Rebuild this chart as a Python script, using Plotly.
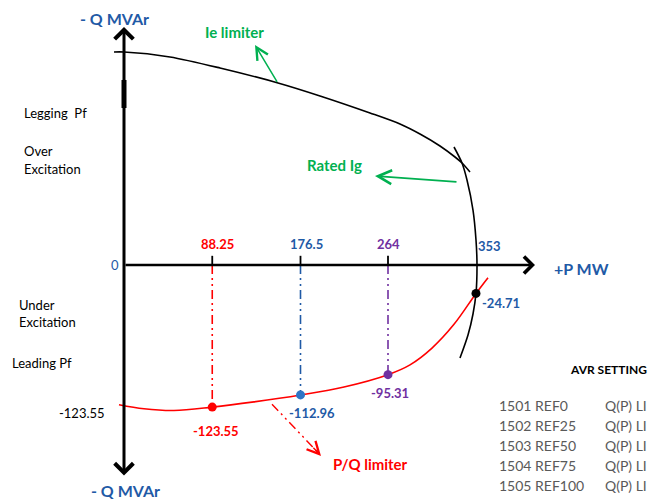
import plotly.graph_objects as go

# ---------------- data (P in MW, Q in MVAr) ----------------
p_ticks = [88.25, 176.5, 264]
p_tick_labels = ["88.25", "176.5", "264"]
p_tick_colors = ["#FF0000", "#1F5AA6", "#7030A0"]
p_rated = 353
p_rated_label = "353"

limit_p = [88.25, 176.5, 264, 352]
limit_q = [-123.55, -112.96, -95.31, -24.71]
limit_labels = ["-123.55", "-112.96", "-95.31", "-24.71"]
marker_colors = ["#FF0000", "#2E75C6", "#7030A0", "#000000"]
label_colors = ["#FF0000", "#1F5AA6", "#7030A0", "#1F5AA6"]

# P/Q limiter curve
pq_curve_p = [-5, 20, 50, 88.25, 130, 176.5, 220, 264, 286, 308, 330, 352, 364]
pq_curve_q = [-121.5, -125, -126.5, -123.55, -119, -112.96, -106, -95.31, -86.8, -72.2, -51.6, -24.71, -11]

# Ie limiter curve
ie_curve_p = [-10, 0, 46, 96, 154, 196, 246, 276, 296, 316, 331, 338, 346]
ie_curve_q = [185.2, 185.2, 180.9, 171.3, 158.3, 147.0, 132.2, 122.6, 113.9, 103.5, 93.9, 88.7, 80.9]

# Rated Ig arc
rated_p = [330, 338, 343, 349, 352, 353, 352, 349, 344, 336]
rated_q = [102.6, 88.7, 73.9, 47.8, 21.7, 0, -24.71, -42.6, -60.9, -80.9]

q_left_label = "-123.55"

avr_title = "AVR SETTING"
avr_codes = ["1501 REF0", "1502 REF25", "1503 REF50", "1504 REF75", "1505 REF100"]
avr_modes = ["Q(P) LI", "Q(P) LI", "Q(P) LI", "Q(P) LI", "Q(P) LI"]

# ---------------- layout constants ----------------
W, H = 651, 500
X_RANGE = [-124, 527]
Y_RANGE = [-204.3, 230.4]
Q_TOP, Q_BOTTOM, P_END = 207, -184.3, 411
TICK = 8
FONT = "Lato, 'Open Sans', sans-serif"
BLUE = "#1F5AA6"
GREEN = "#00B050"
RED = "#FF0000"
DASH = "9px,4px,2px,4px,2px,4px"


def px(x):
    return x / W


def py(y):
    return 1 - y / H


fig = go.Figure()

# curves
fig.add_trace(go.Scatter(x=ie_curve_p, y=ie_curve_q, mode="lines",
                         line=dict(color="black", width=1.6, shape="spline", smoothing=0.8)))
fig.add_trace(go.Scatter(x=rated_p, y=rated_q, mode="lines",
                         line=dict(color="black", width=1.6, shape="spline", smoothing=0.8)))
fig.add_trace(go.Scatter(x=pq_curve_p, y=pq_curve_q, mode="lines",
                         line=dict(color=RED, width=1.6, shape="spline", smoothing=1.0)))

# dash-dot drop lines and tick marks
for p, q, c in zip(p_ticks, limit_q, p_tick_colors):
    fig.add_trace(go.Scatter(x=[p, p], y=[0, q], mode="lines",
                             line=dict(color=c, width=1.6, dash=DASH)))
    fig.add_trace(go.Scatter(x=[p, p], y=[0, TICK], mode="lines",
                             line=dict(color="black", width=1.8)))

# thick stroke on the Q axis
fig.add_trace(go.Scatter(x=[0, 0], y=[160.9, 136.5], mode="lines",
                         line=dict(color="black", width=5)))

# points
fig.add_trace(go.Scatter(x=limit_p, y=limit_q, mode="markers",
                         marker=dict(color=marker_colors, size=9)))

# P/Q limiter dash-dot pointer shaft
fig.add_trace(go.Scatter(x=[148, 194], y=[-121, -163], mode="lines",
                         line=dict(color=RED, width=1.4, dash=DASH)))

ann = []

# axes with arrow heads
ann.append(dict(x=0, y=Q_TOP, ax=0, ay=Q_BOTTOM, xref="x", yref="y", axref="x", ayref="y",
                text="", showarrow=True, arrowside="end+start", arrowhead=4, startarrowhead=4,
                arrowwidth=3, arrowsize=1.2, startarrowsize=1.2, arrowcolor="black"))
ann.append(dict(x=P_END, y=0, ax=0, ay=0, xref="x", yref="y", axref="x", ayref="y",
                text="", showarrow=True, arrowhead=4, arrowwidth=2.5, arrowsize=1.3,
                arrowcolor="black"))

# green pointers
ann.append(dict(x=131, y=191.3, ax=154, ay=158, xref="x", yref="y", axref="x", ayref="y",
                text="", showarrow=True, arrowhead=5, arrowwidth=1.5, arrowsize=1.6,
                arrowcolor=GREEN))
ann.append(dict(x=251, y=77.4, ax=334, ay=72.2, xref="x", yref="y", axref="x", ayref="y",
                text="", showarrow=True, arrowhead=5, arrowwidth=1.8, arrowsize=1.5,
                arrowcolor=GREEN))
# red pointer head
ann.append(dict(x=197, y=-166, ax=188, ay=-157.5, xref="x", yref="y", axref="x", ayref="y",
                text="", showarrow=True, arrowhead=5, arrowwidth=1.4, arrowsize=1.7,
                arrowcolor=RED))

# tick labels
tick_shift = [5, 6, 0]
for p, t, c, s in zip(p_ticks, p_tick_labels, p_tick_colors, tick_shift):
    ann.append(dict(x=p, y=0, xref="x", yref="y", text="<b>%s</b>" % t, showarrow=False,
                    font=dict(family=FONT, size=13, color=c), xshift=s, yshift=21))
ann.append(dict(x=p_rated, y=0, xref="x", yref="y", text="<b>%s</b>" % p_rated_label,
                showarrow=False, font=dict(family=FONT, size=13, color=BLUE),
                xshift=12, yshift=19))
ann.append(dict(x=0, y=0, xref="x", yref="y", text="0", showarrow=False,
                font=dict(family=FONT, size=13, color=BLUE), xanchor="right", xshift=-3))

# point labels
lab_shift = [(4, -24), (11, -18), (2, -18), (25, -10)]
for p, q, t, c, (sx, sy) in zip(limit_p, limit_q, limit_labels, label_colors, lab_shift):
    ann.append(dict(x=p, y=q, xref="x", yref="y", text="<b>%s</b>" % t, showarrow=False,
                    font=dict(family=FONT, size=13, color=c), xshift=sx, yshift=sy))

# Q axis value label
ann.append(dict(x=0, y=limit_q[0], xref="x", yref="y", text=q_left_label, showarrow=False,
                font=dict(family=FONT, size=13, color="black"), xanchor="right", xshift=-17,
                yshift=-6))


# axis titles and callout texts (paper coordinates)
def txt(x, y, t, size=13, color="black", bold=False, anchor="left"):
    ann.append(dict(x=px(x), y=py(y), xref="paper", yref="paper",
                    text=("<b>%s</b>" % t) if bold else t, showarrow=False,
                    xanchor=anchor, yanchor="middle",
                    font=dict(family=FONT, size=size, color=color)))


txt(114, 18, "- Q MVAr", 16, BLUE, True, "center")
txt(125, 490, "- Q MVAr", 16, BLUE, True, "center")
txt(581, 268, "+P MW", 16, BLUE, True, "center")
txt(235, 32, "Ie limiter", 15, GREEN, True, "center")
txt(334, 165, "Rated Ig", 15, GREEN, True, "center")
txt(331, 464, "P/Q limiter", 15, RED, True, "left")

txt(22, 113, "Legging  Pf", 13)
txt(22, 151, "Over", 13)
txt(22, 169, "Excitation", 13)
txt(17, 305, "Under", 13)
txt(17, 322, "Excitation", 13)
txt(10, 363, "Leading Pf", 13)

txt(649, 369, avr_title, 12, "black", True, "right")
rows_y = [405, 425, 445, 465, 485]
for code, mode, y in zip(avr_codes, avr_modes, rows_y):
    txt(497, y, code, 14, "#595959")
    txt(603, y, mode, 14, "#595959")

fig.update_layout(
    width=W, height=H, margin=dict(l=0, r=0, t=0, b=0),
    plot_bgcolor="white", paper_bgcolor="white", showlegend=False,
    xaxis=dict(range=X_RANGE, visible=False, fixedrange=True),
    yaxis=dict(range=Y_RANGE, visible=False, fixedrange=True),
    annotations=ann,
)

fig.write_html("out.html", config={"displayModeBar": False},
               post_script="document.body.style.margin='0';")
